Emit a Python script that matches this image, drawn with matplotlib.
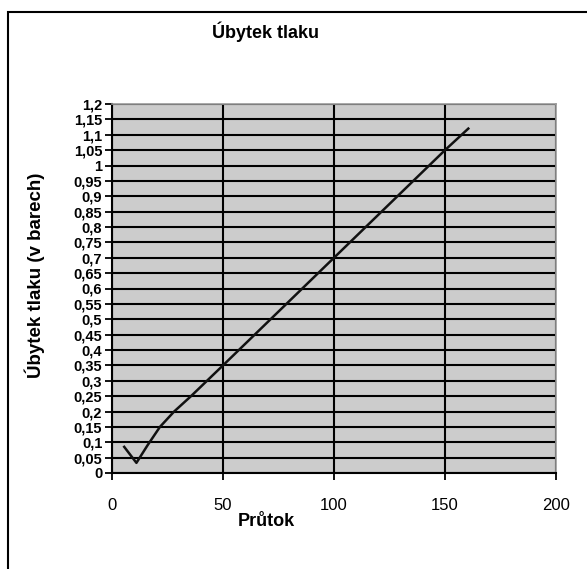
import matplotlib
matplotlib.use("Agg")
import matplotlib.pyplot as plt
from matplotlib.patches import Rectangle
import numpy as np

plt.rcParams['font.family'] = ['Liberation Sans', 'DejaVu Sans']

title = "Úbytek tlaku"
xlabel = "Průtok"
ylabel = "Úbytek tlaku (v barech)"

flow = [5.5, 11, 16, 21.6, 28, 35.6, 50, 75, 100, 125, 150, 160.5]
drop = [0.085, 0.033, 0.09, 0.15, 0.2, 0.25, 0.35, 0.525, 0.70, 0.875, 1.05, 1.12]

xticks = [0, 50, 100, 150, 200]
yticks = [round(0.05 * i, 2) for i in range(25)]

def fmt(v):
    s = ("%.2f" % v).rstrip('0').rstrip('.')
    return s.replace('.', ',')

W, H = 587, 569
fig = plt.figure(figsize=(W / 100, H / 100), dpi=100)
fig.patch.set_facecolor('white')
ax = fig.add_axes([112 / W, 1 - 473 / H, (556 - 112) / W, (473 - 104) / H])
ax.set_facecolor('#cccccc')

ax.set_xlim(0, 200)
ax.set_ylim(0, 1.2)
ax.set_xticks(xticks)
ax.set_xticklabels([str(t) for t in xticks], fontsize=12)
ax.set_yticks(yticks)
ax.set_yticklabels([fmt(t) for t in yticks], fontsize=10.5, fontweight='bold')
ax.tick_params(axis='both', direction='out', length=5, width=1.3, color='black')
ax.tick_params(axis='x', pad=13)
ax.tick_params(axis='y', pad=2)
ax.grid(True, color='black', linewidth=1.5)
ax.set_axisbelow(True)

for side in ['top', 'right']:
    ax.spines[side].set_color('#999999')
    ax.spines[side].set_linewidth(1.2)
for side in ['left', 'bottom']:
    ax.spines[side].set_color('black')
    ax.spines[side].set_linewidth(1.5)

ax.plot(flow, drop, color='#111111', linewidth=1.8, zorder=3)

fig.text(266 / W, 1 - 32 / H, title, ha='center', va='center', fontsize=13, fontweight='bold')
fig.text(266 / W, 1 - 521 / H, xlabel, ha='center', va='center', fontsize=13, fontweight='bold')
fig.text(35 / W, 1 - 275 / H, ylabel, ha='center', va='center', rotation=90, fontsize=13.5, fontweight='bold')

border = Rectangle((8 / W, -0.1), 1.2, (H - 12) / H + 0.1, transform=fig.transFigure,
                   fill=False, edgecolor='black', linewidth=1.5, clip_on=False)
fig.patches.append(border)

fig.savefig('out.png', dpi=100)
